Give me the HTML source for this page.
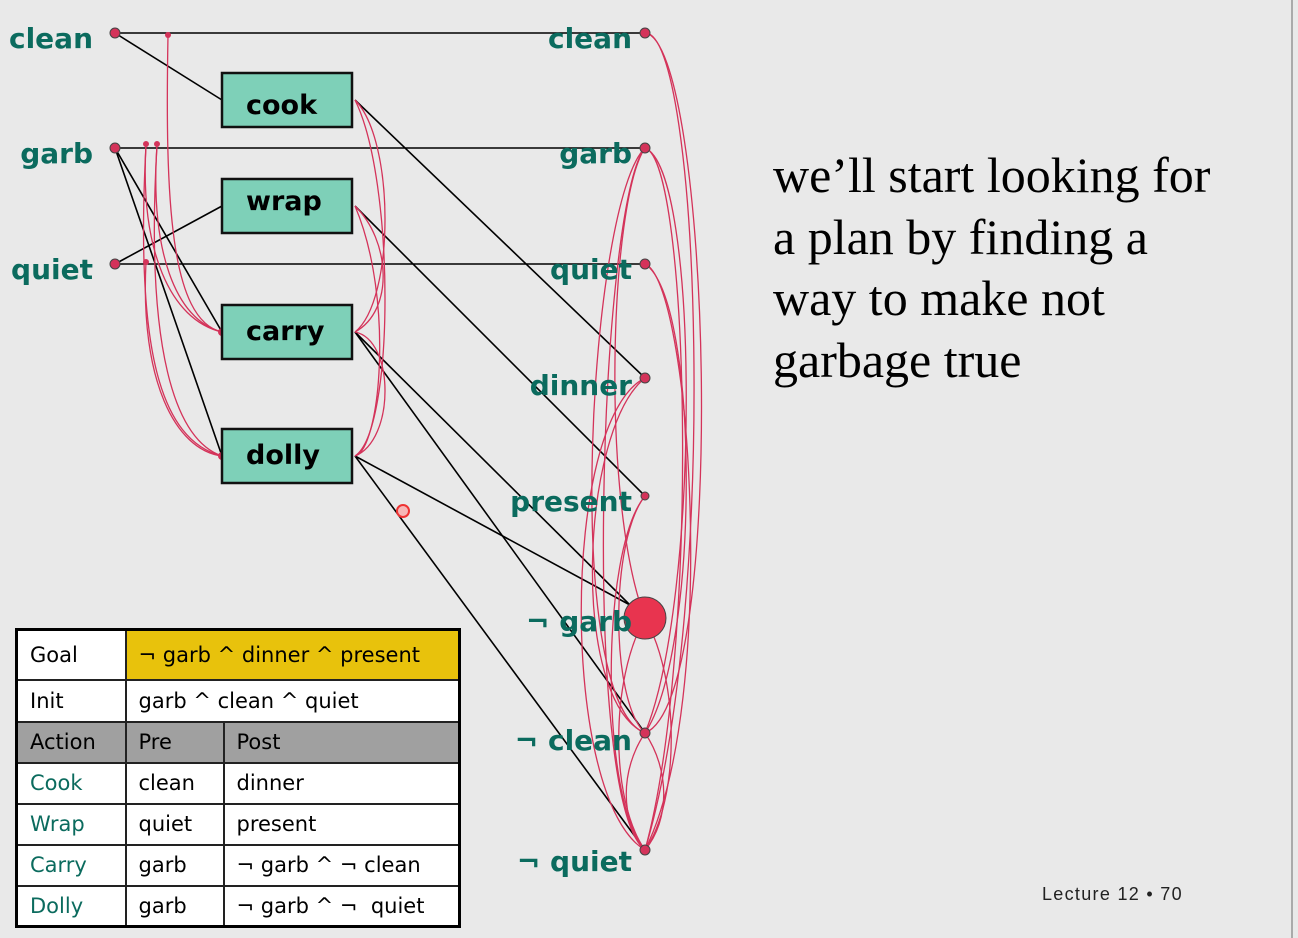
<!DOCTYPE html>
<html><head><meta charset="utf-8"><style>
body{margin:0;width:1298px;height:938px;background:#e9e9e9;overflow:hidden;position:relative;font-family:"Liberation Sans",sans-serif}
svg{position:absolute;left:0;top:0}
.lbl{font-family:"DejaVu Sans","Liberation Sans",sans-serif;font-weight:bold;font-size:28px;fill:#0b6b5e}
.box{font-family:"DejaVu Sans","Liberation Sans",sans-serif;font-weight:bold;font-size:27px;fill:#000}
table{position:absolute;left:15px;top:628px;width:446px;border-collapse:collapse;border:3px solid #000;font-family:"DejaVu Sans","Liberation Sans",sans-serif;font-size:21px}
td{border:2px solid #222;padding:0 12px;height:37px;background:#fff;box-sizing:border-box}
.a{color:#0b6b5e}
.txt{position:absolute;left:773px;top:145px;font-family:"Liberation Serif",serif;font-size:50px;line-height:61.5px;color:#000}
.lec{position:absolute;left:1042px;top:884px;font-size:18px;letter-spacing:1.3px;color:#222}
</style></head><body>
<svg width="1298" height="938">
<line x1="1292" y1="0" x2="1292" y2="938" stroke="#aaa" stroke-width="2"/>
<g stroke="#000" stroke-width="1.6" fill="none">
<line x1="115" y1="33" x2="645" y2="33"/><line x1="115" y1="148" x2="645" y2="148"/><line x1="115" y1="264" x2="645" y2="264"/>
<line x1="115" y1="33" x2="222" y2="100"/><line x1="115" y1="148" x2="222" y2="332"/><line x1="115" y1="148" x2="222" y2="456"/>
<line x1="115" y1="264" x2="222" y2="206"/>
<line x1="355" y1="100" x2="645" y2="378"/><line x1="355" y1="206" x2="645" y2="496"/>
<line x1="355" y1="332" x2="635" y2="610"/><line x1="355" y1="332" x2="645" y2="733"/>
<line x1="355" y1="456" x2="630" y2="605"/><line x1="355" y1="456" x2="645" y2="850"/>
</g>
<g stroke="#d4335a" stroke-width="1.3" fill="none">
<path d="M168 35 C165 200 170 320 222 332"/>
<path d="M146 145 C140 250 170 320 222 332"/><path d="M157 145 C150 250 175 320 222 332"/>
<path d="M146 145 C135 350 160 440 222 456"/><path d="M157 145 C145 350 175 440 222 456"/>
<path d="M146 262 C140 380 175 450 222 456"/>
<path d="M355 100 C395 140 395 300 355 332"/><path d="M355 206 C390 240 395 310 355 332"/>
<path d="M355 332 C395 340 395 440 355 456"/><path d="M355 456 C380 450 395 300 355 206"/><path d="M355 456 C395 430 395 180 355 100"/>
<path d="M645 33 C700 30 720 600 645 850"/><path d="M645 33 C710 40 730 700 645 733"/>
<path d="M645 148 C690 160 700 650 645 850"/><path d="M645 148 C700 170 700 600 645 733"/>
<path d="M645 148 C590 200 560 700 645 733"/><path d="M645 148 C600 200 580 800 645 850"/>
<path d="M645 148 C610 200 600 500 645 618"/>
<path d="M645 264 C690 280 720 700 645 850"/><path d="M645 264 C700 300 700 650 645 733"/>
<path d="M645 378 C560 420 560 800 645 850"/><path d="M645 378 C580 430 570 700 645 733"/>
<path d="M645 496 C600 550 600 800 645 850"/><path d="M645 496 C610 540 610 700 645 733"/>
<path d="M645 618 C610 680 610 800 645 850"/><path d="M645 618 C680 680 680 800 645 850"/>
<path d="M645 733 C670 770 670 820 645 850"/><path d="M645 733 C620 770 620 820 645 850"/>
</g>
<g fill="#d4335a" stroke="#444" stroke-width="1">
<circle cx="115" cy="33" r="5"/><circle cx="115" cy="148" r="5"/><circle cx="115" cy="264" r="5"/>
<circle cx="645" cy="33" r="5"/><circle cx="645" cy="148" r="5"/><circle cx="645" cy="264" r="5"/>
<circle cx="645" cy="378" r="5"/><circle cx="645" cy="496" r="4"/><circle cx="645" cy="733" r="5"/><circle cx="645" cy="850" r="5"/>
<circle cx="645" cy="618" r="21" fill="#e8344f"/>
<circle cx="222" cy="332" r="4" stroke="none"/><circle cx="222" cy="456" r="4" stroke="none"/>
<circle cx="168" cy="35" r="3" stroke="none"/><circle cx="146" cy="144" r="3" stroke="none"/><circle cx="157" cy="144" r="3" stroke="none"/><circle cx="146" cy="262" r="3" stroke="none"/>
</g>
<circle cx="403" cy="511" r="6" fill="#f6b7b7" stroke="#e33" stroke-width="2"/>
<g fill="#7ed0b8" stroke="#111" stroke-width="2.5">
<rect x="222" y="73" width="130" height="54"/><rect x="222" y="179" width="130" height="54"/>
<rect x="222" y="305" width="130" height="54"/><rect x="222" y="429" width="130" height="54"/>
</g>
<text class="box" x="246" y="114">cook</text><text class="box" x="246" y="210">wrap</text>
<text class="box" x="246" y="340">carry</text><text class="box" x="246" y="464">dolly</text>
<g class="lbl" text-anchor="end">
<text x="93" y="48">clean</text><text x="93" y="163">garb</text><text x="93" y="279">quiet</text>
<text x="632" y="48">clean</text><text x="632" y="163">garb</text><text x="632" y="279">quiet</text>
<text x="632" y="395">dinner</text><text x="632" y="511">present</text><text x="632" y="631">¬ garb</text>
<text x="632" y="750">¬ clean</text><text x="632" y="871">¬ quiet</text>
</g>
</svg>
<table>
<tr><td style="width:109px;height:50px">Goal</td><td colspan="2" style="background:#e8c20c;height:50px">¬ garb ^ dinner ^ present</td></tr>
<tr><td style="height:42px">Init</td><td colspan="2" style="height:42px">garb ^ clean ^ quiet</td></tr>
<tr><td style="background:#a0a0a0;height:41px">Action</td><td style="background:#a0a0a0;width:98px;height:41px">Pre</td><td style="background:#a0a0a0;height:41px">Post</td></tr>
<tr><td class="a" style="height:41px">Cook</td><td>clean</td><td>dinner</td></tr>
<tr><td class="a" style="height:41px">Wrap</td><td>quiet</td><td>present</td></tr>
<tr><td class="a" style="height:41px">Carry</td><td>garb</td><td>¬ garb ^ ¬ clean</td></tr>
<tr><td class="a" style="height:41px">Dolly</td><td>garb</td><td>¬ garb ^ ¬&nbsp; quiet</td></tr>
</table>
<div class="txt">we’ll start looking for<br>a plan by finding a<br>way to make not<br>garbage true</div>
<div class="lec">Lecture 12 • 70</div>
</body></html>
